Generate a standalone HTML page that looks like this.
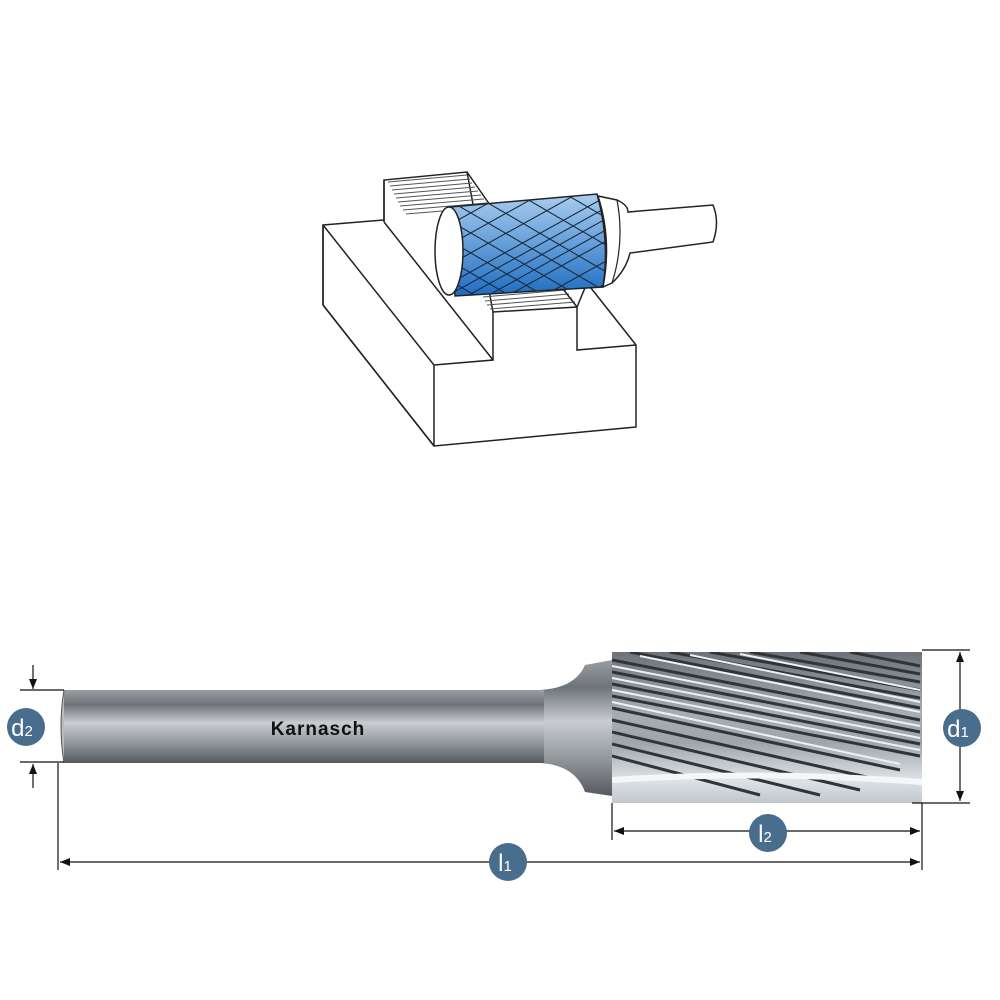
<!DOCTYPE html>
<html><head><style>body{margin:0;background:#fff}svg{display:block}</style></head>
<body>
<svg width="1000" height="1000" viewBox="0 0 1000 1000" xmlns="http://www.w3.org/2000/svg" font-family="Liberation Sans, sans-serif">
<defs>
<linearGradient id="shank" x1="0" y1="0" x2="0" y2="1">
<stop offset="0" stop-color="#9a9ea3"/><stop offset="0.2" stop-color="#6e7378"/><stop offset="0.45" stop-color="#c9cdd1"/><stop offset="0.75" stop-color="#8d9297"/><stop offset="1" stop-color="#55595e"/>
</linearGradient>
<linearGradient id="head" x1="0" y1="0" x2="0" y2="1">
<stop offset="0" stop-color="#6c7277"/><stop offset="0.4" stop-color="#a7adb3"/><stop offset="0.6" stop-color="#9ea5ab"/><stop offset="0.85" stop-color="#dfe3e6"/><stop offset="1" stop-color="#c0c6cb"/>
</linearGradient>
<linearGradient id="blue" x1="0" y1="0" x2="0" y2="1">
<stop offset="0" stop-color="#a9cdef"/><stop offset="1" stop-color="#1e6dc2"/>
</linearGradient>
<clipPath id="hc"><rect x="612" y="652" width="310" height="151"/></clipPath>
<clipPath id="cc"><path d="M450,207 L597,194 Q610,240 603,287 L455,296 Z"/></clipPath>
<marker id="ar" markerWidth="10" markerHeight="8" refX="10" refY="4" orient="auto-start-reverse" markerUnits="userSpaceOnUse"><path d="M0,0 L10,4 L0,8 Z" fill="#111"/></marker>
</defs>

<!-- top illustration -->
<g stroke="#222" stroke-width="1.5" fill="#fff">
<path d="M323,225 L384,220 L384,180 L467,172 L493,312 L577,307 L587,283 L636,345 L636,427 L434,446 L323,305 Z"/>
</g>
<g stroke="#555" stroke-width="1">
<path d="M388,182 L467,175 M390,186 L470,179 M392,190 L472,183 M394,194 L475,187 M396,198 L478,191 M398,202 L481,195 M400,206 L484,199 M403,210 L487,203 M406,214 L490,207"/>
<path d="M480,293 L562,286 M483,297 L566,290 M485,301 L569,294 M487,305 L572,298 M490,309 L575,302"/>
</g>
<g stroke="#222" stroke-width="1.5" fill="none">
<path d="M323,225 L323,305 M323,225 L434,365 L434,446 M434,365 L493,360 L493,312 M577,307 L577,350 L636,345 M384,222 L493,360 M384,180 L384,222 M467,172 L490,205 M560,285 L577,307 M323,305 L434,446"/>
</g>
<!-- cylinder -->
<path d="M450,207 L597,194 Q610,240 603,287 L455,296 Z" fill="url(#blue)" stroke="#222" stroke-width="1.5"/>
<g clip-path="url(#cc)" stroke="#1a2a3a" stroke-width="1.1" fill="none">
<path d="M440,215 L620,320 M440,235 L620,340 M440,195 L620,300 M440,175 L620,280 M440,255 L620,360 M440,275 L620,380 M460,160 L640,265 M490,150 L670,255 M520,140 L700,245 M560,140 L700,220"/>
<path d="M440,300 L620,200 M460,300 L640,200 M480,300 L660,200 M500,300 L680,200 M420,300 L600,200 M440,270 L620,170 M440,250 L620,150 M440,230 L620,130 M500,320 L680,220 M540,320 L720,220"/>
</g>
<ellipse cx="449" cy="251" rx="14" ry="44" fill="#fff" stroke="#222" stroke-width="1.5"/>
<path d="M598,196 L617,200 Q628,205 628,212 L713,205 Q720,222 713,242 L630,253 Q626,270 612,283 L603,287 Q612,240 598,196 Z" fill="#fff" stroke="#222" stroke-width="1.5"/>
<path d="M617,200 Q625,242 612,283" fill="none" stroke="#222" stroke-width="1.2"/>

<!-- bottom burr -->
<path d="M540,690 Q575,688 585,665 L612,660 L612,796 L585,792 Q575,765 540,763 Z" fill="url(#shank)"/>
<rect x="64" y="690" width="480" height="73" fill="url(#shank)"/>
<path d="M64,690 Q58,726 64,763" fill="#bbb" stroke="#555"/>
<rect x="612" y="652" width="310" height="151" fill="url(#head)"/>
<g clip-path="url(#hc)" stroke-width="3" fill="none">
<g stroke="#2f3438">
<path d="M612,660 L920,720 M612,672 L920,732 M612,684 L920,744 M612,696 L920,756 M612,708 L900,770 M612,720 L880,780 M612,732 L860,790 M612,744 L820,795 M612,756 L760,795 M630,652 L920,708 M670,652 L920,698 M710,652 L920,690 M750,652 L920,682 M800,652 L920,674 M850,652 L920,666"/>
</g>
<g stroke="#eef1f3" stroke-width="2">
<path d="M612,666 L920,726 M612,678 L920,738 M612,690 L920,750 M640,656 L920,712 M690,655 L920,702 M740,654 L920,690 M612,702 L900,764"/>
</g>
<path d="M612,780 Q760,770 922,782" stroke="#f4f6f7" stroke-width="6"/>
</g>
<text x="318" y="735" font-size="19" font-weight="bold" text-anchor="middle" fill="#111" letter-spacing="1">Karnasch</text>

<!-- dimensions -->
<g stroke="#111" stroke-width="1.2" fill="none">
<path d="M20,690 L64,690 M20,762 L64,762"/>
<path d="M33,665 L33,689" marker-end="url(#ar)"/>
<path d="M33,788 L33,764" marker-end="url(#ar)"/>
<path d="M922,650 L970,650 M912,803 L970,803"/>
<path d="M960,652 L960,801" marker-start="url(#ar)" marker-end="url(#ar)"/>
<path d="M612,803 L612,840 M922,803 L922,870 M58,763 L58,870"/>
<path d="M614,831 L920,831" marker-start="url(#ar)" marker-end="url(#ar)"/>
<path d="M60,862 L920,862" marker-start="url(#ar)" marker-end="url(#ar)"/>
</g>
<g fill="#496d8d">
<circle cx="26" cy="727" r="19"/><circle cx="962" cy="728" r="19"/>
<circle cx="768" cy="833" r="19"/><circle cx="508" cy="862" r="19"/>
</g>
<g fill="#fff" font-size="24" text-anchor="middle">
<text x="22" y="736">d<tspan font-size="15">2</tspan></text>
<text x="958" y="737">d<tspan font-size="15">1</tspan></text>
<text x="765" y="842">l<tspan font-size="15">2</tspan></text>
<text x="505" y="871">l<tspan font-size="15">1</tspan></text>
</g>
</svg>
</body></html>
